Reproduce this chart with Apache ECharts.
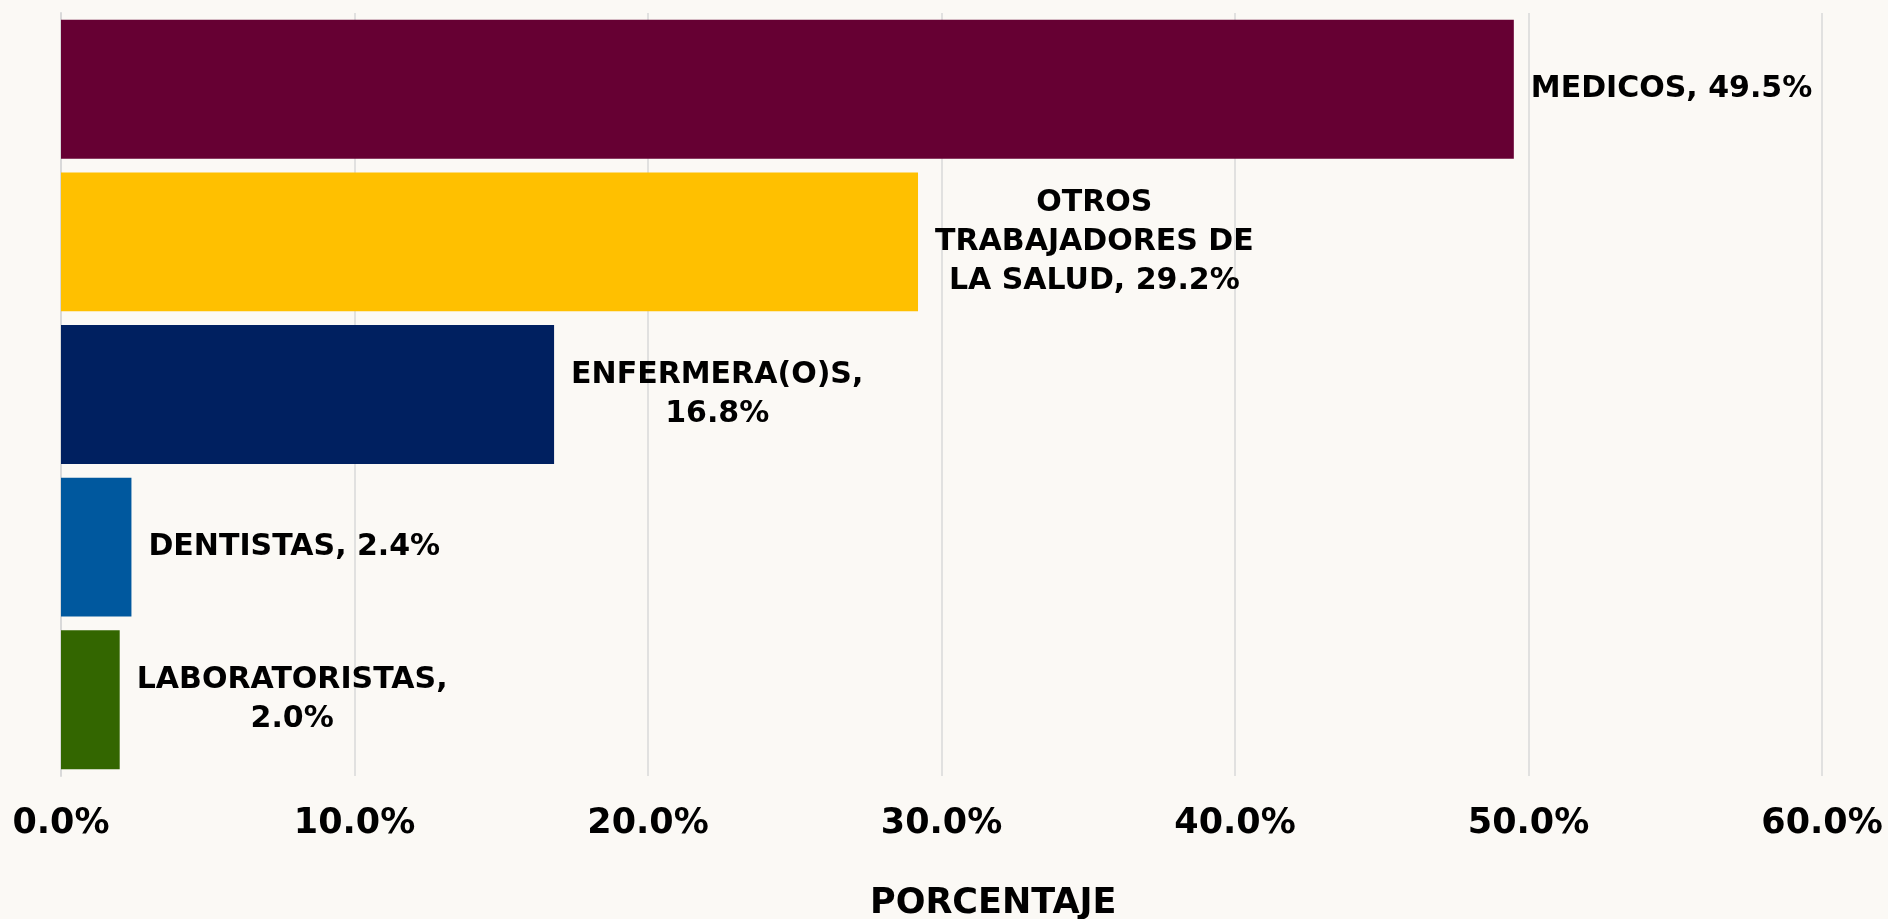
<!DOCTYPE html>
<html>
<head>
<meta charset="utf-8">
<script src="https://cdn.jsdelivr.net/npm/echarts@6/dist/echarts.min.js"></script>
<style>
html,body{margin:0;padding:0;width:1888px;height:919px;overflow:hidden;background:#fbf9f5;}
#c{width:1888px;height:919px;}
</style>
</head>
<body>
<div id="c"></div>
<script>
const categories = ['MEDICOS', 'OTROS TRABAJADORES DE LA SALUD', 'ENFERMERA(O)S', 'DENTISTAS', 'LABORATORISTAS'];
const values = [49.5, 29.2, 16.8, 2.4, 2.0];
const labelLines = [
  ['MEDICOS, 49.5%'],
  ['OTROS', 'TRABAJADORES DE', 'LA SALUD, 29.2%'],
  ['ENFERMERA(O)S,', '16.8%'],
  ['DENTISTAS, 2.4%'],
  ['LABORATORISTAS,', '2.0%']
];
const barColors = ['#660033', '#FFC000', '#002060', '#00589E', '#336600'];
const xTicks = [0, 10, 20, 30, 40, 50, 60];
const axisTitle = 'PORCENTAJE';

const FONT = '"DejaVu Sans", sans-serif';
const chart = echarts.init(document.getElementById('c'), null, {renderer: 'canvas'});
chart.setOption({
  backgroundColor: '#fbf9f5',
  animation: false,
  grid: {left: 61, right: 66, top: 13, bottom: 143, containLabel: false},
  xAxis: {
    type: 'value',
    min: xTicks[0],
    max: xTicks[xTicks.length - 1],
    interval: xTicks[1] - xTicks[0],
    axisLine: {show: false},
    axisTick: {show: false},
    splitLine: {show: true, lineStyle: {color: '#d9d9d9', width: 1.5}},
    axisLabel: {
      margin: 30,
      fontFamily: FONT,
      fontWeight: 'bold',
      fontSize: 35,
      color: '#000',
      formatter: v => v.toFixed(1) + '%'
    }
  },
  yAxis: {
    type: 'category',
    data: categories,
    inverse: true,
    axisLine: {show: true, lineStyle: {color: '#d9d9d9', width: 2}},
    axisTick: {show: false},
    axisLabel: {show: false},
    splitLine: {show: false}
  },
  series: [{
    type: 'bar',
    barCategoryGap: '9%',
    data: values.map((v, i) => ({value: v, itemStyle: {color: barColors[i]}})),
    label: {
      show: true,
      position: 'right',
      distance: 17,
      formatter: p => labelLines[p.dataIndex].map(l => '{a|' + l + '}').join('\n'),
      rich: {
        a: {
          fontFamily: FONT,
          fontWeight: 'bold',
          fontSize: 30,
          lineHeight: 39,
          color: '#000',
          align: 'center'
        }
      }
    }
  }],
  graphic: [{
    type: 'text',
    left: 996 - 126,
    top: 886,
    style: {
      text: axisTitle,
      fontFamily: FONT,
      fontWeight: 'bold',
      fontSize: 35,
      fill: '#000'
    }
  }]
});
</script>
</body>
</html>
